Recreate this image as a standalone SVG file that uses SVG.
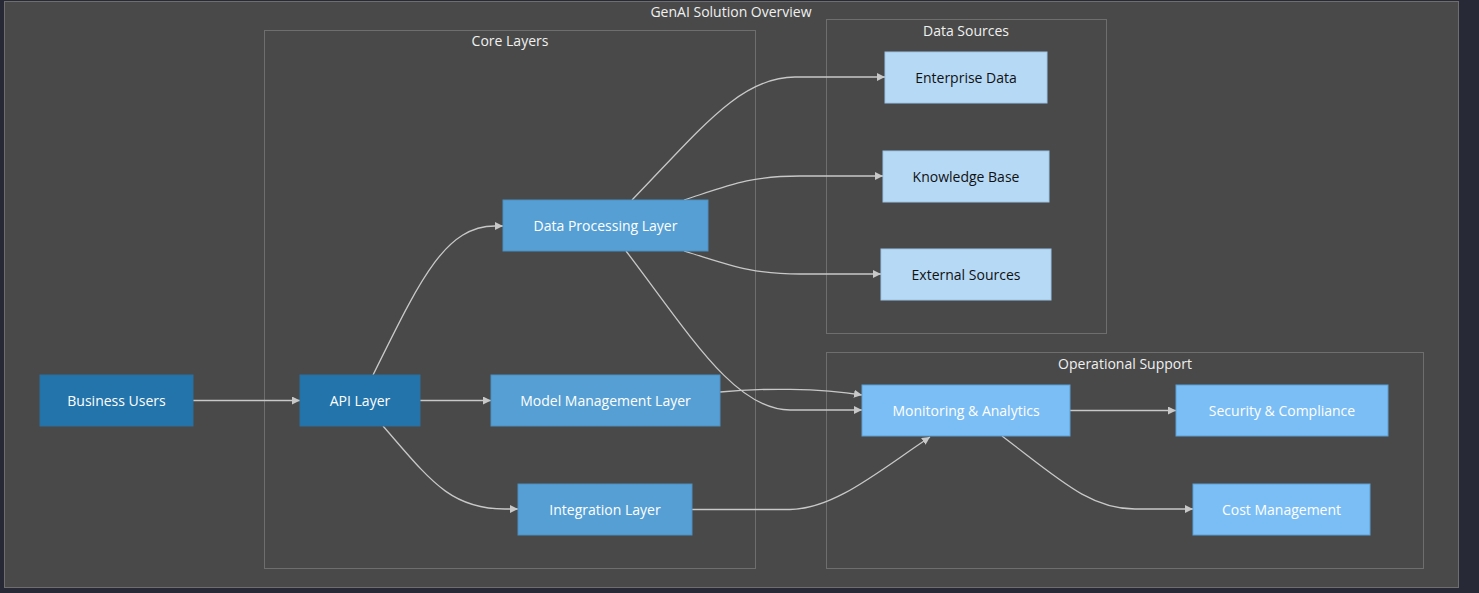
<svg xmlns="http://www.w3.org/2000/svg" width="1479" height="593" viewBox="0 0 1479 593">
<style>
.cl{fill:#484948;stroke:#6e6e6e;stroke-width:1}
.clt{fill:#f0f0f0;font-family:"Open Sans","DejaVu Sans",sans-serif;font-size:14px;text-anchor:middle}
.t{font-family:"Open Sans","DejaVu Sans",sans-serif;font-size:14px;text-anchor:middle;dominant-baseline:central}
.dk rect{fill:#2374ab;stroke:#2a6f9e}
.dk text{fill:#ffffff}
.md rect{fill:#569fd4;stroke:#4b8fc2}
.md text{fill:#ffffff}
.lt rect{fill:#b6d9f6;stroke:#9cc4e6}
.lt text{fill:#111111}
.op rect{fill:#7bbef5;stroke:#5b9fd6}
.op text{fill:#ffffff}
.e{fill:none;stroke:#c8c8c8;stroke-width:1.3}
</style>
<defs>
<marker id="ah" viewBox="0 0 10 10" refX="10" refY="5" markerWidth="8" markerHeight="8" markerUnits="userSpaceOnUse" orient="auto">
<path d="M0,0 L10,5 L0,10 z" fill="#c8c8c8"/>
</marker>
</defs>
<rect x="0" y="0" width="1479" height="593" fill="#272a36"/>
<g id="cluster-overview">
<rect class="cl" x="4.5" y="1.5" width="1454" height="586"/>
<text class="clt" x="731" y="17">GenAI Solution Overview</text>
</g>
<g id="cluster-core">
<rect class="cl" x="264.5" y="30.5" width="491" height="538"/>
<text class="clt" x="510" y="46">Core Layers</text>
</g>
<g id="cluster-data">
<rect class="cl" x="826.5" y="19.5" width="280" height="314"/>
<text class="clt" x="966" y="36">Data Sources</text>
</g>
<g id="cluster-ops">
<rect class="cl" x="826.5" y="352.5" width="597" height="216"/>
<text class="clt" x="1125" y="369">Operational Support</text>
</g>
<g id="edges">
<path class="e" marker-end="url(#ah)" d="M193,400.5 L300,400.5"/>
<path class="e" marker-end="url(#ah)" d="M373,375 C420,280 445,226 495,226 L503,226"/>
<path class="e" marker-end="url(#ah)" d="M420,400.5 L491,400.5"/>
<path class="e" marker-end="url(#ah)" d="M383,426 C430,480 450,509 505,509 L518,509"/>
<path class="e" marker-end="url(#ah)" d="M632,200 C700,130 740,77 795,77 L885,77"/>
<path class="e" marker-end="url(#ah)" d="M684,200 C730,185 750,176 800,176 L883,176"/>
<path class="e" marker-end="url(#ah)" d="M684,251 C730,265 750,274 800,274 L881,274"/>
<path class="e" marker-end="url(#ah)" d="M626,251 C690,335 735,410 790,410 L862,410"/>
<path class="e" marker-end="url(#ah)" d="M720,392 C760,388 820,388 862,395"/>
<path class="e" marker-end="url(#ah)" d="M692,509.5 L790,509.5 C835,509 880,470 930,437"/>
<path class="e" marker-end="url(#ah)" d="M1070,410.5 L1176,410.5"/>
<path class="e" marker-end="url(#ah)" d="M1002,436 C1060,480 1090,509 1135,509 L1193,509"/>
</g>
<g id="node-business-users" class="dk"><rect x="40" y="375" width="153" height="51"/><text class="t" x="116.5" y="400.5">Business Users</text></g>
<g id="node-api-layer" class="dk"><rect x="300" y="375" width="120" height="51"/><text class="t" x="360" y="400.5">API Layer</text></g>
<g id="node-data-processing" class="md"><rect x="503" y="200" width="205" height="51"/><text class="t" x="605.5" y="225.5">Data Processing Layer</text></g>
<g id="node-model-management" class="md"><rect x="491" y="375" width="229" height="51"/><text class="t" x="605.5" y="400.5">Model Management Layer</text></g>
<g id="node-integration" class="md"><rect x="518" y="484" width="174" height="51"/><text class="t" x="605" y="509.5">Integration Layer</text></g>
<g id="node-enterprise-data" class="lt"><rect x="885" y="52" width="162" height="51"/><text class="t" x="966" y="77.5">Enterprise Data</text></g>
<g id="node-knowledge-base" class="lt"><rect x="883" y="151" width="166" height="51"/><text class="t" x="966" y="176.5">Knowledge Base</text></g>
<g id="node-external-sources" class="lt"><rect x="881" y="249" width="170" height="51"/><text class="t" x="966" y="274.5">External Sources</text></g>
<g id="node-monitoring" class="op"><rect x="862" y="385" width="208" height="51"/><text class="t" x="966" y="410.5">Monitoring &amp; Analytics</text></g>
<g id="node-security" class="op"><rect x="1176" y="385" width="212" height="51"/><text class="t" x="1282" y="410.5">Security &amp; Compliance</text></g>
<g id="node-cost" class="op"><rect x="1193" y="484" width="177" height="51"/><text class="t" x="1281.5" y="509.5">Cost Management</text></g>
</svg>
